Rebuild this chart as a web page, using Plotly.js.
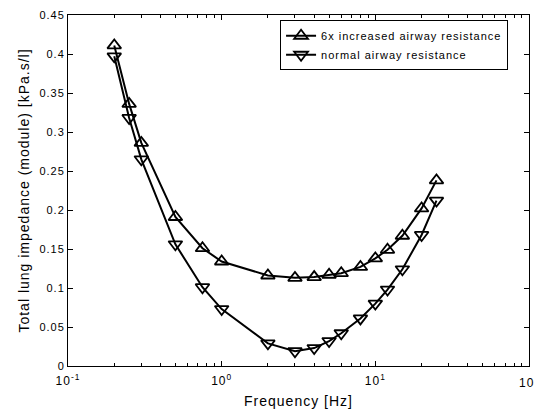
<!DOCTYPE html>
<html><head><meta charset="utf-8">
<script src="https://cdn.plot.ly/plotly-3.0.1.min.js"></script>
<style>
html,body{margin:0;padding:0;background:#fff}
#chart{width:534px;height:412px}
svg text{letter-spacing:1px}
</style>
</head><body><div id="chart"></div>
<script>
var freq = [0.2, 0.25, 0.3, 0.5, 0.75, 1, 2, 3, 4, 5, 6, 8, 10, 12, 15, 20, 25];
var increased = [0.411, 0.336, 0.286, 0.191, 0.151, 0.134, 0.116, 0.113, 0.114, 0.117, 0.119, 0.127, 0.138, 0.149, 0.167, 0.202, 0.238];
var normal = [0.397, 0.318, 0.265, 0.156, 0.101, 0.073, 0.029, 0.019, 0.023, 0.032, 0.042, 0.061, 0.080, 0.098, 0.124, 0.168, 0.212];
var names = ['6x increased airway resistance', 'normal airway resistance'];
var xTickVals = [0.1, 1, 10, 100];
var xTickText = ['10<sup>-1</sup>', '10<sup>0</sup>', '10<sup>1</sup>', '10<sup>2</sup>'];

var traces = [
  {x: freq, y: increased, name: names[0], mode: 'lines+markers',
   line: {color: '#000', width: 2},
   marker: {symbol: 'triangle-up-open', size: 12, color: '#000', line: {width: 1.8, color: '#000'}}},
  {x: freq, y: normal, name: names[1], mode: 'lines+markers',
   line: {color: '#000', width: 2},
   marker: {symbol: 'triangle-down-open', size: 12, color: '#000', line: {width: 1.8, color: '#000'}}}
];
var fam = 'Liberation Sans, Arial, sans-serif';
var font = {family: fam, size: 11, color: '#000'};
var lastIdx = xTickVals.length - 1;
var layout = {
  width: 534, height: 412,
  margin: {l: 68, r: 5, t: 15, b: 46},
  paper_bgcolor: '#fff', plot_bgcolor: '#fff',
  font: font,
  showlegend: true,
  legend: {x: 0.46, y: 0.985, xanchor: 'left', yanchor: 'top', bordercolor: '#000', borderwidth: 1,
           bgcolor: '#fff', font: {family: fam, size: 11, color: '#000'}, tracegroupgap: 0},
  xaxis: {type: 'log', range: [-1, 2], tickmode: 'array', tickvals: xTickVals.slice(0, lastIdx), ticktext: xTickText.slice(0, lastIdx),
          ticks: 'inside', ticklen: 5, tickcolor: '#000', showline: true, linecolor: '#000', linewidth: 1,
          mirror: 'allticks', showgrid: false, zeroline: false, ticklabelstandoff: 4,
          minor: {ticks: 'inside', ticklen: 3, tickcolor: '#000', dtick: 'D1', showgrid: false},
          tickfont: {family: fam, size: 12, color: '#000'},
          title: {text: 'Frequency [Hz]', font: {family: fam, size: 14, color: '#000'}, standoff: 8}},
  yaxis: {range: [0, 0.45], dtick: 0.05, ticks: 'inside', ticklen: 5, tickcolor: '#000',
          showline: true, linecolor: '#000', linewidth: 1, mirror: 'allticks', showgrid: false, zeroline: false,
          tickfont: {family: fam, size: 11, color: '#000'},
          title: {text: 'Total lung impedance (module) [kPa.s/l]', font: {family: fam, size: 14, color: '#000'}, standoff: 6}},
  annotations: [{x: Math.log10(xTickVals[lastIdx]), y: 0, xref: 'x', yref: 'paper', text: xTickText[lastIdx],
                 showarrow: false, xanchor: 'center', yanchor: 'top', yshift: -6,
                 font: {family: fam, size: 12, color: '#000'}}]
};
Plotly.newPlot('chart', traces, layout, {displayModeBar: false, staticPlot: true});
</script></body></html>
